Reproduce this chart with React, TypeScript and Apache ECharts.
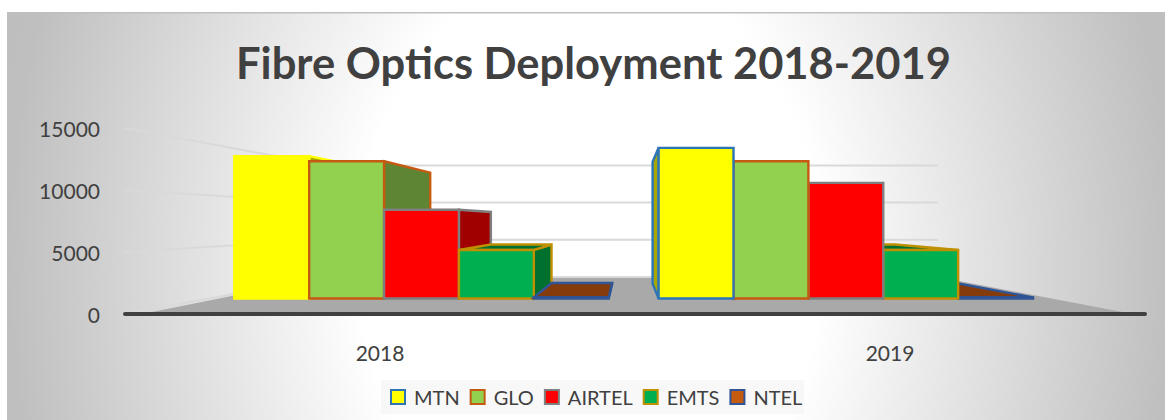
import React, { useEffect, useRef } from "react";
import * as echarts from "echarts";

const years = ["2018", "2019"];
const yTicks = [0, 5000, 10000, 15000];
const seriesNames = ["MTN", "GLO", "AIRTEL", "EMTS", "NTEL"];
const mtn = [13800, 14600];
const glo = [13300, 13300];
const airtel = [8600, 11200];
const emts = [4700, 4700];
const ntel = [100, 100];
const seriesValues = [mtn, glo, airtel, emts, ntel];

const fills = ["#ffff00", "#92d050", "#ff0000", "#00b050", "#c55a11"];
const borders = ["#2e75b6", "#c55a11", "#7f7f7f", "#bf9000", "#2f5597"];
const sides = ["#a8a800", "#5e8533", "#a00000", "#00702f", "#843c0c"];
const firstYearMtnBorder = "#ffff00";

// perspective of the imitated 3D scene
const VX = 627;
const VY = 221.5;
const S_FRONT = 0.832;
const S_BAR_BACK = 0.674;
const S_WALL = 0.6;
const BAR_W = 90;
const BG_STRETCH = 1.3;
const project = (x: number, y: number, s: number): number[] => [VX + (x - VX) * s, VY + (y - VY) * s];

function wallItem(params: any, api: any) {
  const tick = api.value(0);
  const cs = params.coordSys;
  const left = cs.x;
  const right = cs.x + cs.width;
  const y = api.coord([0, tick])[1];
  const backL = project(left, y, S_WALL);
  const backR = project(right, y, S_WALL);
  const children: any[] = [];
  if (tick === 0) {
    children.push({
      type: "polygon",
      z2: 2,
      shape: { points: [[left + 17, y], [right - 12, y], backR, backL] },
      style: { fill: "#a9a9a9" },
    });
  }
  children.push({
    type: "polyline",
    z2: 3,
    shape: { points: [[left, y], backL, backR] },
    style: { stroke: "#d9d9d9", lineWidth: 2, fill: "none" },
  });
  return { type: "group", children };
}

function barItem(seriesIndex: number) {
  return (params: any, api: any) => {
    const cat = api.value(0);
    const val = api.value(1);
    const base = api.coord([cat, 0]);
    const top = api.coord([cat, val]);
    const xl = base[0] + (seriesIndex - 2.5) * BAR_W;
    const xr = xl + BAR_W;
    const fl = (x: number, y: number) => project(x, y, S_FRONT);
    const bk = (x: number, y: number) => project(x, y, S_BAR_BACK);
    const order = cat === 0 ? seriesIndex : 10 - seriesIndex;
    const stroke = seriesIndex === 0 && cat === 0 ? firstYearMtnBorder : borders[seriesIndex];
    const style = (fill: string) => ({ fill, stroke, lineWidth: 2.4, lineJoin: "miter" });
    const children: any[] = [];
    const frontLeft = fl(xl, top[1]);
    const frontRight = fl(xr, top[1]);
    if (frontRight[0] < VX) {
      children.push({
        type: "polygon",
        z2: 10 + order * 10,
        shape: { points: [fl(xr, top[1]), bk(xr, top[1]), bk(xr, base[1]), fl(xr, base[1])] },
        style: style(sides[seriesIndex]),
      });
    }
    if (frontLeft[0] > VX) {
      children.push({
        type: "polygon",
        z2: 10 + order * 10,
        shape: { points: [fl(xl, top[1]), bk(xl, top[1]), bk(xl, base[1]), fl(xl, base[1])] },
        style: style(sides[seriesIndex]),
      });
    }
    if (frontLeft[1] > VY) {
      children.push({
        type: "polygon",
        z2: 11 + order * 10,
        shape: { points: [fl(xl, top[1]), bk(xl, top[1]), bk(xr, top[1]), fl(xr, top[1])] },
        style: style(sides[seriesIndex]),
      });
    }
    children.push({
      type: "polygon",
      z2: 12 + order * 10,
      shape: { points: [fl(xl, top[1]), fl(xr, top[1]), fl(xr, base[1]), fl(xl, base[1])] },
      style: style(fills[seriesIndex]),
    });
    return { type: "group", children };
  };
}

export default function App() {
  const ref = useRef<HTMLDivElement>(null);
  useEffect(() => {
    document.body.style.margin = "0";
    document.documentElement.style.overflow = "hidden";
    const chart = echarts.init(ref.current!, null, { renderer: "svg" });
    const font = "Lato";
    chart.setOption({
      animation: false,
      backgroundColor: "#ffffff",
      graphic: [
        {
          type: "rect",
          z: -10,
          silent: true,
          scaleY: BG_STRETCH,
          shape: { x: 7, y: 12 / BG_STRETCH, width: 1158, height: 408 / BG_STRETCH },
          style: {
            fill: new echarts.graphic.RadialGradient(
              590,
              260 / BG_STRETCH,
              640,
              [
                { offset: 0, color: "#ffffff" },
                { offset: 0.36, color: "#ffffff" },
                { offset: 0.91, color: "#bfbfbf" },
                { offset: 1, color: "#bdbdbd" },
              ],
              true
            ),
          },
        },
        {
          type: "rect",
          z: -9,
          silent: true,
          shape: { x: 7, y: 12, width: 1158, height: 1.5 },
          style: { fill: "#bfbfbf" },
        },
      ],
      title: {
        text: "Fibre Optics Deployment 2018-2019",
        left: 588.5,
        top: 35,
        textAlign: "center",
        textStyle: { fontFamily: font, fontWeight: 700, fontSize: 43.5, color: "#404040" },
      },
      legend: {
        data: seriesNames,
        left: 381,
        top: 380,
        padding: [7, 2, 7, 9],
        itemGap: 10,
        itemWidth: 14,
        itemHeight: 14,
        icon: "rect",
        backgroundColor: "rgba(240,240,240,0.45)",
        textStyle: { fontFamily: font, fontSize: 20, color: "#404040", padding: [0, 0, 0, 4] },
      },
      grid: { left: 125, right: 20, top: 128, bottom: 106 },
      xAxis: {
        type: "category",
        data: years,
        axisTick: { show: false },
        axisLine: { lineStyle: { color: "#404040", width: 4 } },
        axisLabel: { fontFamily: font, fontSize: 21, color: "#404040", margin: 28 },
        z: 5,
      },
      yAxis: {
        type: "value",
        min: 0,
        max: 15000,
        interval: 5000,
        axisLine: { show: false },
        axisTick: { show: false },
        splitLine: { show: false },
        axisLabel: {
          fontFamily: font,
          fontSize: 21,
          color: "#404040",
          margin: 25,
          formatter: (v: number) => String(v),
        },
      },
      series: [
        {
          type: "custom",
          name: "walls",
          silent: true,
          clip: false,
          z: 1,
          encode: { x: 1, y: 0 },
          data: yTicks.map((t) => [t, 0]),
          renderItem: wallItem,
        },
        ...seriesNames.map((name, i) => ({
          type: "custom",
          name,
          clip: false,
          z: 2,
          encode: { x: 0, y: 1 },
          itemStyle: { color: fills[i], borderColor: borders[i], borderWidth: 2 },
          data: seriesValues[i].map((v, c) => [c, v]),
          renderItem: barItem(i),
        })),
      ],
    });
    return () => chart.dispose();
  }, []);
  return <div ref={ref} style={{ width: 1165, height: 420 }} />;
}
